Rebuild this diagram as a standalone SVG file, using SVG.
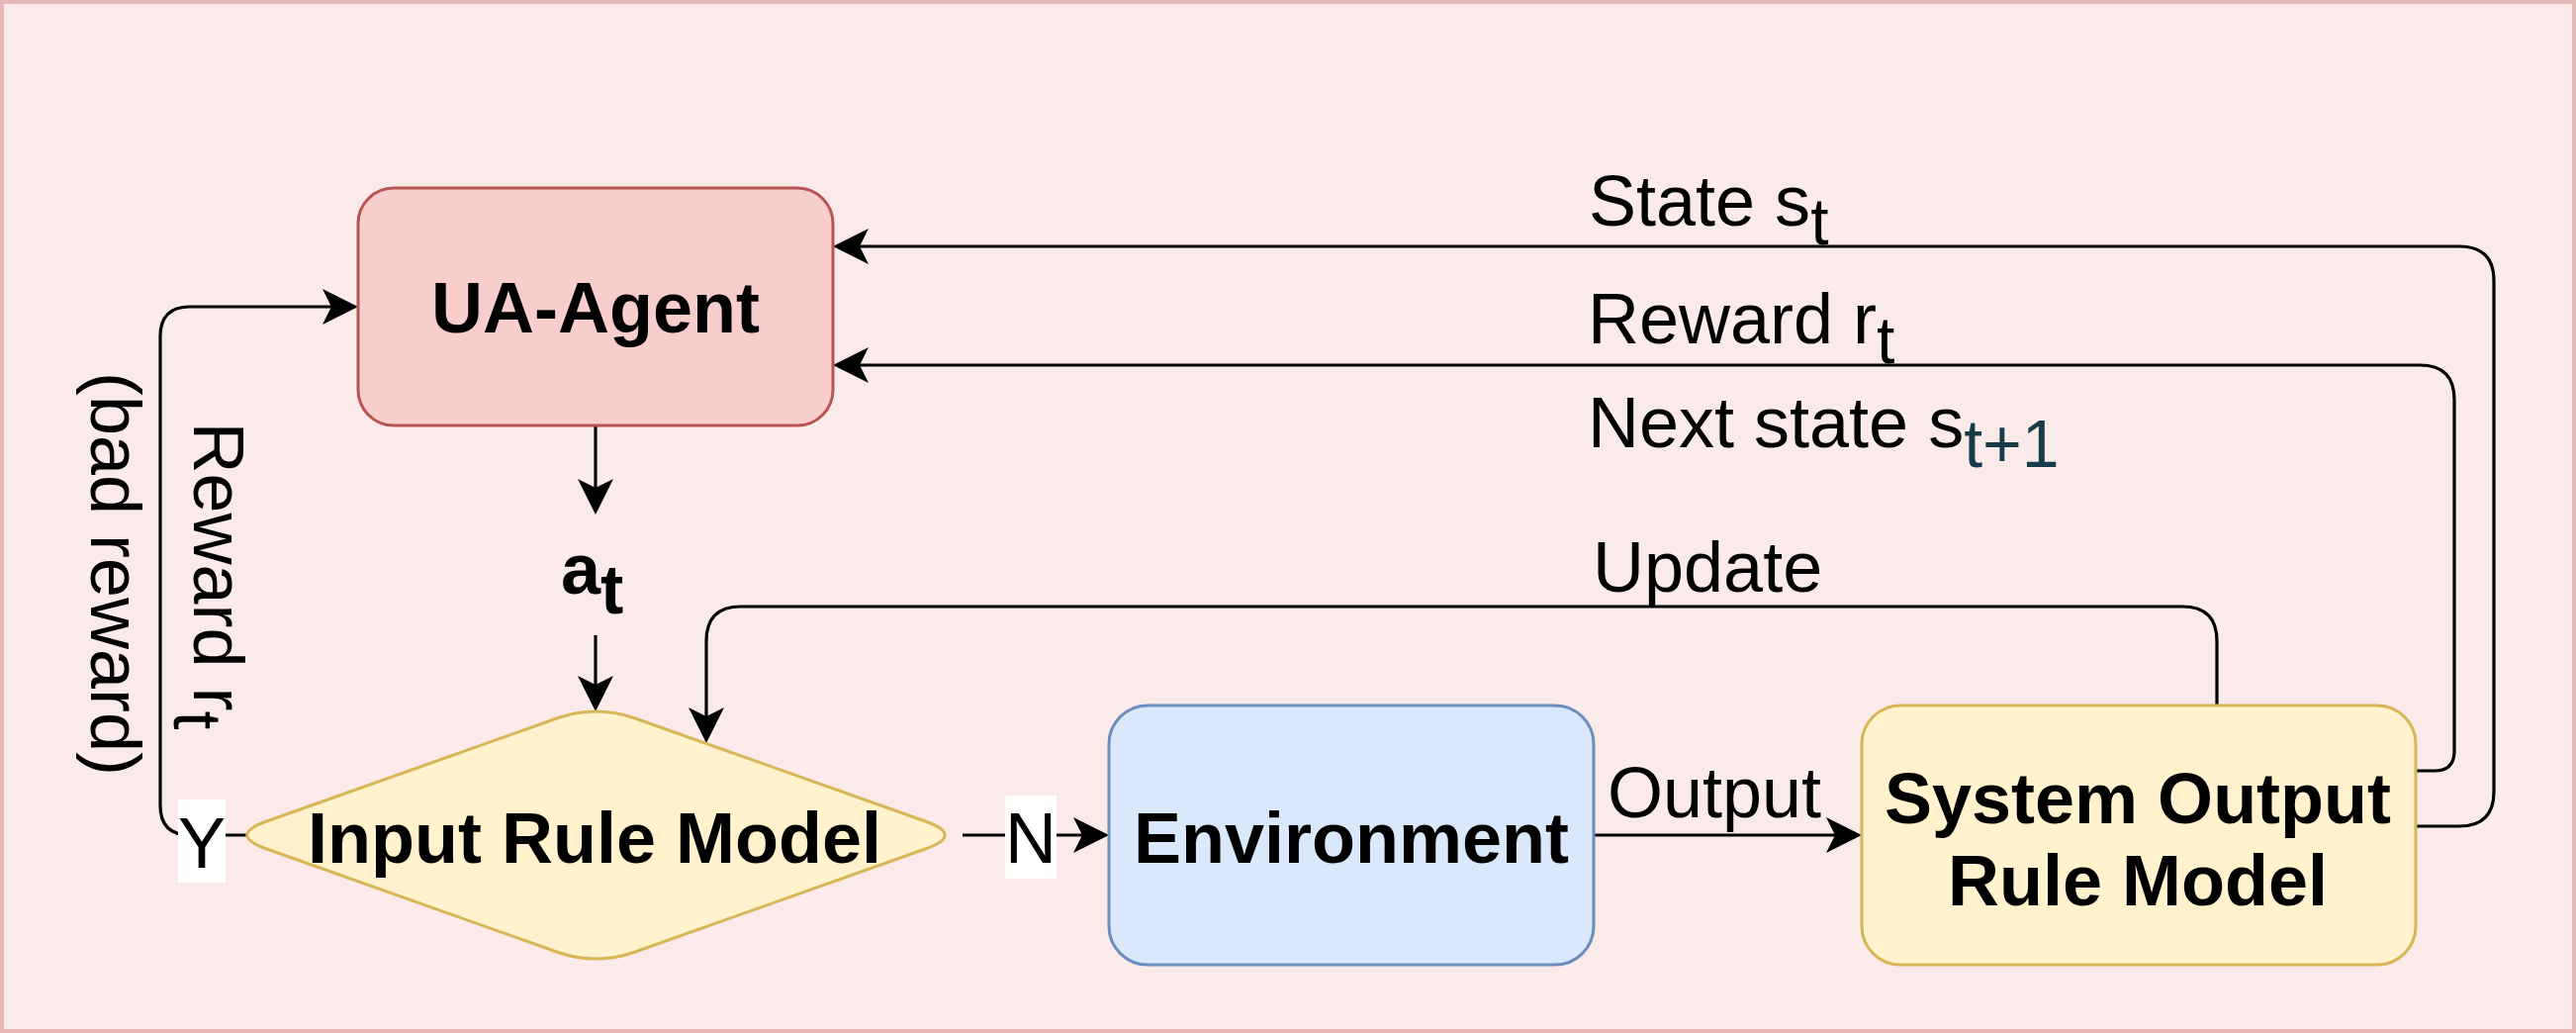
<svg xmlns="http://www.w3.org/2000/svg" width="2604" height="1044" viewBox="0 0 2604 1044">
<defs>
<marker id="arr" viewBox="0 -18 36 36" refX="9" refY="0" markerWidth="36" markerHeight="36" markerUnits="userSpaceOnUse" orient="auto">
<path d="M36,0 L0,-18 L9,0 L0,18 Z" fill="#000"/>
</marker>
<style>
.bg{fill:#fbeaea;stroke:#e6b8b7;stroke-width:4}
.edge{fill:none;stroke:#000;stroke-width:3.2;marker-end:url(#arr)}
.bold{font-family:"Liberation Sans",Arial,Helvetica,sans-serif;font-weight:bold;font-size:72px;fill:#000}
.lbl{font-family:"Liberation Sans",Arial,Helvetica,sans-serif;font-size:72px;fill:#000}
.sub{font-size:66px}
.mid{text-anchor:middle}
</style>
</defs>
<rect class="bg" x="2" y="2" width="2600" height="1040"/>

<g id="connectors">
<path id="e-state" class="edge" d="M2442 835 L2486 835 Q2521 835 2521 800 L2521 284 Q2521 249 2486 249 L869 249"/>
<path id="e-reward" class="edge" d="M2442 779 L2461 779 Q2481 779 2481 759 L2481 404 Q2481 369 2446 369 L869 369"/>
<path id="e-update" class="edge" d="M2241 713 L2241 648 Q2241 613 2206 613 L749 613 Q714 613 714 648 L714 724"/>
<path id="e-yes" class="edge" d="M262 844 L192 844 Q162 844 162 814 L162 340 Q162 310 192 310 L335 310"/>
<path id="e-no" class="edge" d="M973 844 L1094 844"/>
<path id="e-output" class="edge" d="M1611 844 L1855 844"/>
<path id="e-act1" class="edge" d="M602 430 L602 493"/>
<path id="e-act2" class="edge" d="M602 642 L602 692"/>
</g>

<g id="labels">
<text class="lbl" x="1606" y="228">State s<tspan class="sub" dy="19">t</tspan></text>
<text class="lbl" x="1605" y="347">Reward r<tspan class="sub" dy="20">t</tspan></text>
<text class="lbl" x="1605" y="452">Next state s<tspan dy="20" font-size="68" fill="#173b49">t+1</tspan></text>
<text class="lbl" x="1610" y="598">Update</text>
<text class="lbl mid" x="1733" y="826">Output</text>
<text class="lbl mid" transform="translate(196,582) rotate(90)">Reward r<tspan font-size="68" dy="20">t</tspan></text>
<text class="lbl mid" transform="translate(92,580) rotate(90)">(bad reward)</text>
<g id="label-y">
<rect x="180" y="808" width="48" height="84" fill="#fff"/>
<text class="lbl mid" x="204" y="877">Y</text>
</g>
<g id="label-n">
<rect x="1016" y="804" width="52" height="84" fill="#fff"/>
<text class="lbl mid" x="1042" y="872">N</text>
</g>
</g>

<g id="ua-agent">
<rect x="362" y="190" width="480" height="240" rx="36" ry="36" fill="#f8cecc" stroke="#b85450" stroke-width="3"/>
<text class="bold mid" x="602" y="336">UA-Agent</text>
</g>

<g id="action">
<text class="bold" x="567" y="600">a<tspan font-size="70" dy="20">t</tspan></text>
</g>

<g id="input-rule-model">
<path d="M269.6 830 L562.9 726 Q602.5 712 642.1 726 L935.4 830 Q975 844 935.4 858 L642.1 962 Q602.5 976 562.9 962 L269.6 858 Q230 844 269.6 830 Z" fill="#fff2cc" stroke="#d6b656" stroke-width="3"/>
<text class="bold mid" x="601" y="872">Input Rule Model</text>
</g>

<g id="environment">
<rect x="1121" y="713" width="490" height="262" rx="39" ry="39" fill="#dae8fc" stroke="#6c8ebf" stroke-width="3"/>
<text class="bold mid" x="1366" y="872">Environment</text>
</g>

<g id="system-output-rule-model">
<rect x="1882" y="713" width="560" height="262" rx="39" ry="39" fill="#fff2cc" stroke="#d6b656" stroke-width="3"/>
<text class="bold mid" x="2161" y="832">System Output</text>
<text class="bold mid" x="2161" y="915">Rule Model</text>
</g>
</svg>
